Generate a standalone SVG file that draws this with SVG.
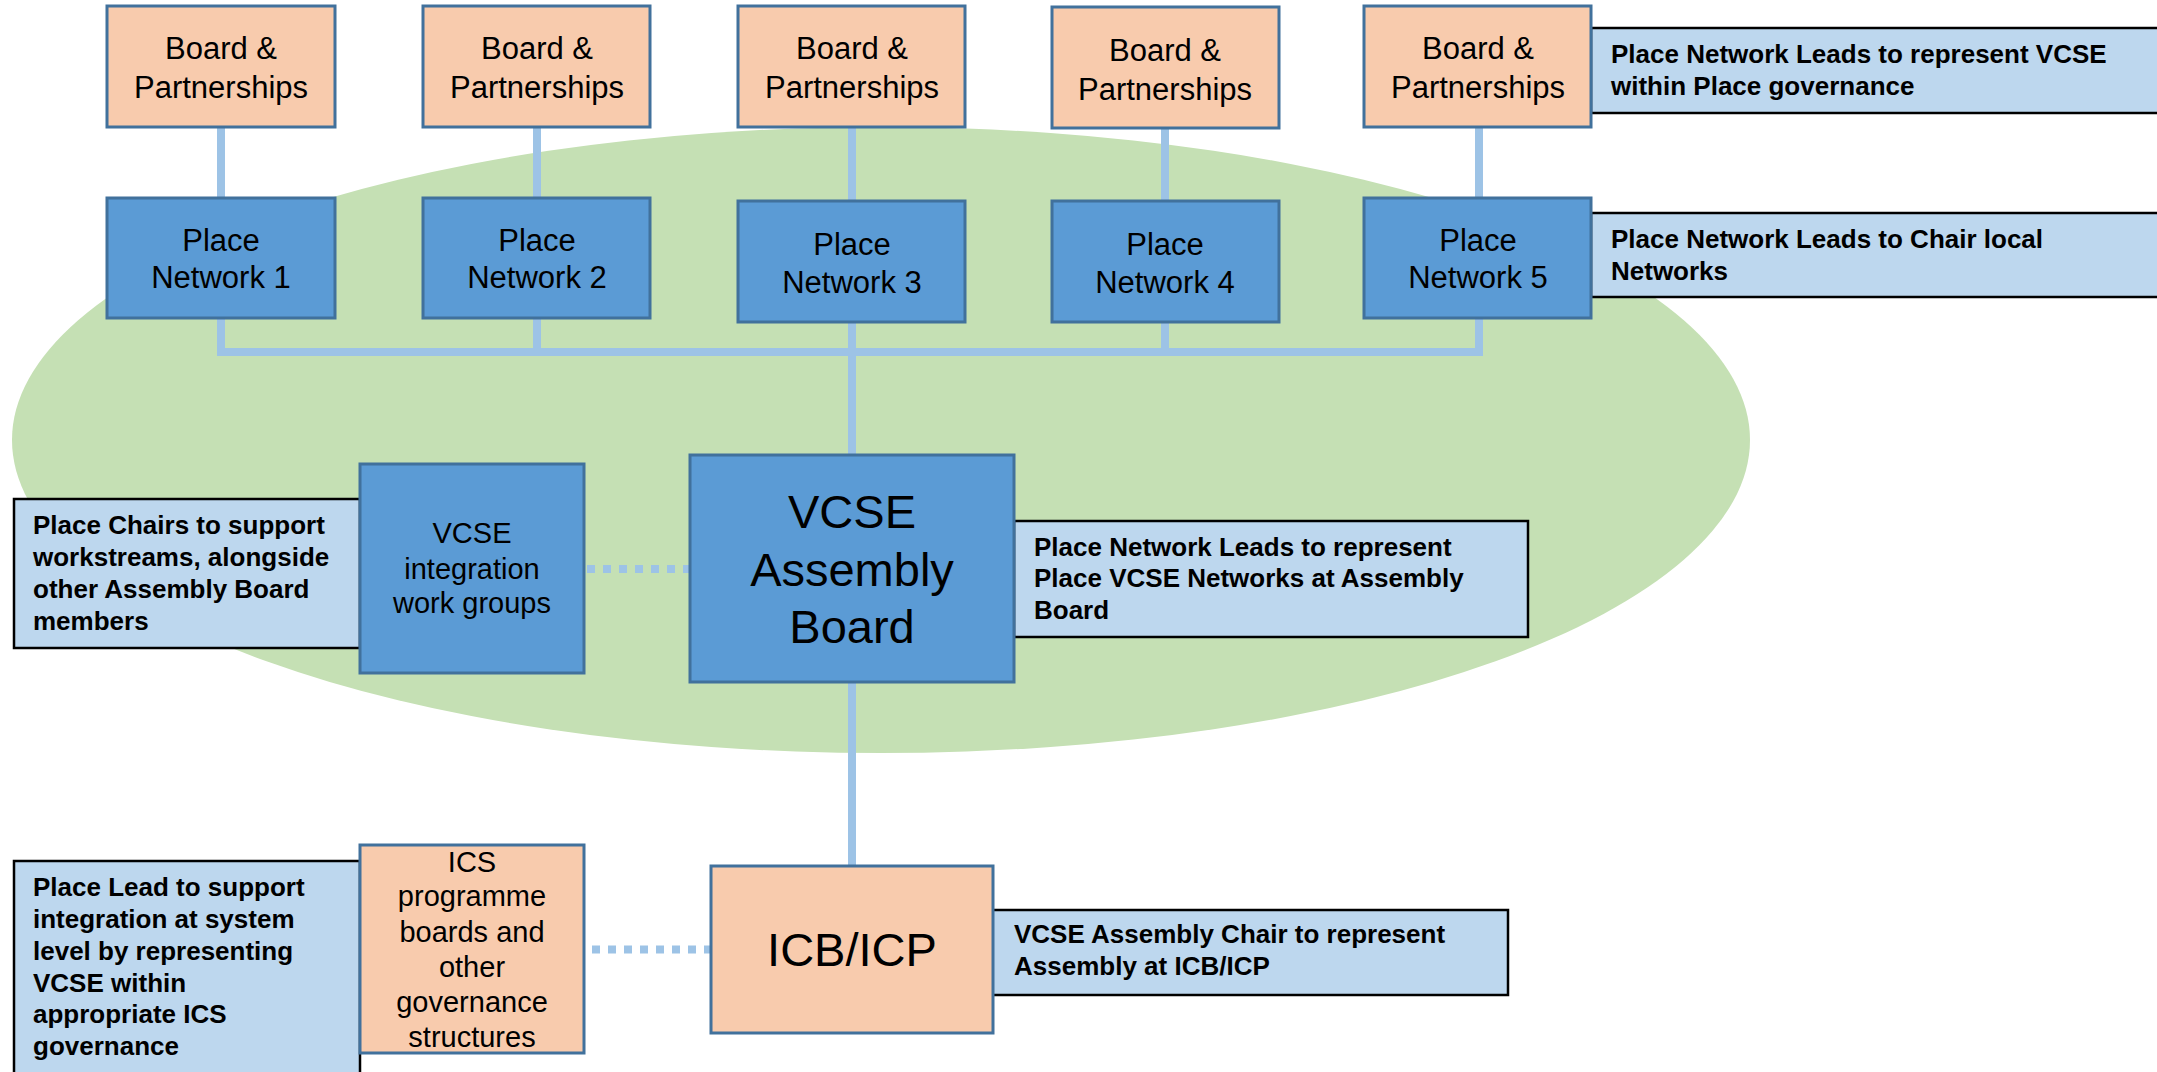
<svg xmlns="http://www.w3.org/2000/svg" width="2157" height="1072" viewBox="0 0 2157 1072">
<style>
text{font-family:"Liberation Sans",Arial,sans-serif;fill:#000}
.peach{fill:#F8CBAD;stroke:#41719C;stroke-width:3}
.blue{fill:#5B9BD5;stroke:#41719C;stroke-width:3}
.note{fill:#BDD7EE;stroke:#000;stroke-width:2.5}
.bt{font-size:31px;text-anchor:middle}
.nt{font-size:26px;font-weight:bold}
.conn{stroke:#9DC3E6;stroke-width:8;fill:none}
.dot{stroke:#9DC3E6;stroke-width:8;fill:none;stroke-dasharray:8 8}
</style>
<rect width="2157" height="1072" fill="#fff"/>
<ellipse id="region" cx="881" cy="440" rx="869" ry="313" fill="#C5E0B4"/>
<g id="connectors">
<line class="conn" x1="221" y1="127" x2="221" y2="198"/>
<line class="conn" x1="537" y1="127" x2="537" y2="198"/>
<line class="conn" x1="852" y1="127" x2="852" y2="201"/>
<line class="conn" x1="1165" y1="128" x2="1165" y2="201"/>
<line class="conn" x1="1479" y1="127" x2="1479" y2="198"/>
<line class="conn" x1="221" y1="318" x2="221" y2="356"/>
<line class="conn" x1="537" y1="318" x2="537" y2="352"/>
<line class="conn" x1="852" y1="322" x2="852" y2="455"/>
<line class="conn" x1="1165" y1="322" x2="1165" y2="352"/>
<line class="conn" x1="1479" y1="318" x2="1479" y2="356"/>
<line class="conn" x1="217" y1="352" x2="1483" y2="352"/>
<line class="conn" x1="852" y1="682" x2="852" y2="866"/>
<line class="dot" x1="587" y1="569" x2="691" y2="569"/>
<line class="dot" x1="592" y1="949.5" x2="712" y2="949.5"/>
</g>
<g id="note-place-governance">
<rect class="note" x="1591" y="28" width="580" height="85"/>
<text class="nt" x="1611" y="63">Place Network Leads to represent VCSE</text>
<text class="nt" x="1611" y="95">within Place governance</text>
</g>
<g id="note-chair-local">
<rect class="note" x="1591" y="213" width="580" height="84"/>
<text class="nt" x="1611" y="248">Place Network Leads to Chair local</text>
<text class="nt" x="1611" y="280">Networks</text>
</g>
<g id="note-place-chairs">
<rect class="note" x="14" y="499" width="346" height="149"/>
<text class="nt" x="33" y="534">Place Chairs to support</text>
<text class="nt" x="33" y="566">workstreams, alongside</text>
<text class="nt" x="33" y="598">other Assembly Board</text>
<text class="nt" x="33" y="630">members</text>
</g>
<g id="note-assembly-board">
<rect class="note" x="1014" y="521" width="514" height="116"/>
<text class="nt" x="1034" y="556">Place Network Leads to represent</text>
<text class="nt" x="1034" y="587">Place VCSE Networks at Assembly</text>
<text class="nt" x="1034" y="619">Board</text>
</g>
<g id="note-place-lead">
<rect class="note" x="14" y="861" width="346" height="230"/>
<text class="nt" x="33" y="896">Place Lead to support</text>
<text class="nt" x="33" y="928">integration at system</text>
<text class="nt" x="33" y="960">level by representing</text>
<text class="nt" x="33" y="992">VCSE within</text>
<text class="nt" x="33" y="1023">appropriate ICS</text>
<text class="nt" x="33" y="1055">governance</text>
</g>
<g id="note-icb">
<rect class="note" x="992" y="910" width="516" height="85"/>
<text class="nt" x="1014" y="943">VCSE Assembly Chair to represent</text>
<text class="nt" x="1014" y="975">Assembly at ICB/ICP</text>
</g>
<g id="board1">
<rect class="peach" x="107" y="6" width="228" height="121"/>
<text class="bt" x="221" y="59">Board &amp;</text>
<text class="bt" x="221" y="98">Partnerships</text>
</g>
<g id="board2">
<rect class="peach" x="423" y="6" width="227" height="121"/>
<text class="bt" x="537" y="59">Board &amp;</text>
<text class="bt" x="537" y="98">Partnerships</text>
</g>
<g id="board3">
<rect class="peach" x="738" y="6" width="227" height="121"/>
<text class="bt" x="852" y="59">Board &amp;</text>
<text class="bt" x="852" y="98">Partnerships</text>
</g>
<g id="board4">
<rect class="peach" x="1052" y="7" width="227" height="121"/>
<text class="bt" x="1165" y="61">Board &amp;</text>
<text class="bt" x="1165" y="100">Partnerships</text>
</g>
<g id="board5">
<rect class="peach" x="1364" y="6" width="227" height="121"/>
<text class="bt" x="1478" y="59">Board &amp;</text>
<text class="bt" x="1478" y="98">Partnerships</text>
</g>
<g id="place-network-1">
<rect class="blue" x="107" y="198" width="228" height="120"/>
<text class="bt" x="221" y="251">Place</text>
<text class="bt" x="221" y="288">Network 1</text>
</g>
<g id="place-network-2">
<rect class="blue" x="423" y="198" width="227" height="120"/>
<text class="bt" x="537" y="251">Place</text>
<text class="bt" x="537" y="288">Network 2</text>
</g>
<g id="place-network-3">
<rect class="blue" x="738" y="201" width="227" height="121"/>
<text class="bt" x="852" y="255">Place</text>
<text class="bt" x="852" y="293">Network 3</text>
</g>
<g id="place-network-4">
<rect class="blue" x="1052" y="201" width="227" height="121"/>
<text class="bt" x="1165" y="255">Place</text>
<text class="bt" x="1165" y="293">Network 4</text>
</g>
<g id="place-network-5">
<rect class="blue" x="1364" y="198" width="227" height="120"/>
<text class="bt" x="1478" y="251">Place</text>
<text class="bt" x="1478" y="288">Network 5</text>
</g>
<g id="work-groups">
<rect class="blue" x="360" y="464" width="224" height="209"/>
<text class="bt" x="472" y="543" style="font-size:29px">VCSE</text>
<text class="bt" x="472" y="579" style="font-size:29px">integration</text>
<text class="bt" x="472" y="613" style="font-size:29px">work groups</text>
</g>
<g id="assembly-board">
<rect class="blue" x="690" y="455" width="324" height="227"/>
<text class="bt" x="852" y="528" style="font-size:47px">VCSE</text>
<text class="bt" x="852" y="586" style="font-size:47px">Assembly</text>
<text class="bt" x="852" y="643" style="font-size:47px">Board</text>
</g>
<g id="ics-programme">
<rect class="peach" x="360" y="845" width="224" height="208"/>
<text class="bt" x="472" y="872" style="font-size:29px">ICS</text>
<text class="bt" x="472" y="906" style="font-size:29px">programme</text>
<text class="bt" x="472" y="942" style="font-size:29px">boards and</text>
<text class="bt" x="472" y="977" style="font-size:29px">other</text>
<text class="bt" x="472" y="1012" style="font-size:29px">governance</text>
<text class="bt" x="472" y="1047" style="font-size:29px">structures</text>
</g>
<g id="icb-icp">
<rect class="peach" x="711" y="866" width="282" height="167"/>
<text class="bt" x="852" y="966" style="font-size:47px">ICB/ICP</text>
</g>
</svg>
